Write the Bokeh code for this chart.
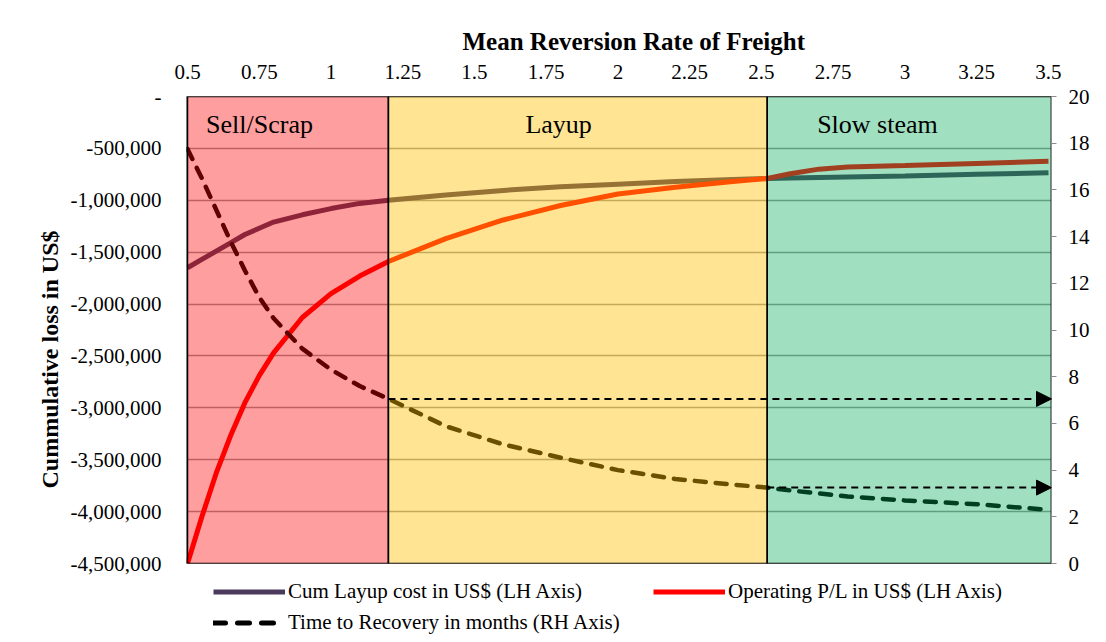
from bokeh.plotting import figure
from bokeh.layouts import column
from bokeh.models import (Range1d, LinearAxis, FixedTicker, Label, Legend, LegendItem,
                          Arrow, NormalHead, ColumnDataSource, Title)
from bokeh.embed import file_html
from bokeh.resources import INLINE

# ---------------- data ----------------
rate = [0.5, 0.55, 0.6, 0.65, 0.7, 0.75, 0.8, 0.9, 1.0, 1.1, 1.2, 1.4, 1.6, 1.8,
        2.0, 2.2, 2.4, 2.52, 2.6, 2.7, 2.8, 3.0, 3.25, 3.5]
layup_cost = [-1650000, -1570000, -1490000, -1410000, -1330000, -1270000, -1210000,
              -1140000, -1080000, -1030000, -1000000, -950000, -905000, -870000,
              -845000, -820000, -800000, -790000, -785000, -780000, -775000,
              -765000, -750000, -735000]
operating_pl = [-4500000, -4050000, -3630000, -3270000, -2950000, -2690000, -2470000,
                -2130000, -1900000, -1730000, -1590000, -1370000, -1190000, -1050000,
                -940000, -875000, -820000, -790000, -745000, -700000, -680000,
                -665000, -645000, -625000]
recovery_months = [17.75, 16.5, 15.15, 13.8, 12.55, 11.4, 10.5, 9.2, 8.3, 7.6, 7.05,
                   5.88, 5.1, 4.53, 4.0, 3.62, 3.38, 3.25, 3.13, 3.0, 2.87, 2.7, 2.54, 2.3]

regions = ["Sell/Scrap", "Layup", "Slow steam"]
region_start = [0.5, 1.2, 2.52]
region_end = [1.2, 2.52, 3.51]
region_label_x = [0.751, 1.793, 2.904]
region_colors = ["#FF0000", "#FFBE00", "#00AC56"]
region_alpha = [0.38, 0.42, 0.373]

x_ticks = [0.5, 0.75, 1.0, 1.25, 1.5, 1.75, 2.0, 2.25, 2.5, 2.75, 3.0, 3.25, 3.5]
x_tick_labels = ["0.5", "0.75", "1", "1.25", "1.5", "1.75", "2", "2.25", "2.5",
                 "2.75", "3", "3.25", "3.5"]
left_ticks = [0, -500000, -1000000, -1500000, -2000000, -2500000, -3000000,
              -3500000, -4000000, -4500000]
left_tick_labels = ["-", "-500,000", "-1,000,000", "-1,500,000", "-2,000,000",
                    "-2,500,000", "-3,000,000", "-3,500,000", "-4,000,000", "-4,500,000"]
right_ticks = [0, 2, 4, 6, 8, 10, 12, 14, 16, 18, 20]

x_title = "Mean Reversion Rate of Freight"
y_title = "Cummulative loss in US$"
legend_labels = ["Cum Layup cost in US$ (LH Axis)", "Operating P/L in US$ (LH Axis)",
                 "Time to Recovery in months (RH Axis)"]

FONT = "Liberation Serif"
LAYUP_COLOR = "#4A3B5C"
OP_COLOR = "#FF0000"
REC_COLOR = "black"
REC_DASH = "11 10"

# ---------------- main figure ----------------
p = figure(width=1106, height=576, output_backend="svg", toolbar_location=None,
           x_range=Range1d(0.4965, 3.5105), y_range=Range1d(-4500000, 0),
           x_axis_location="above",
           min_border_left=186, min_border_right=55, min_border_top=96,
           min_border_bottom=13, background_fill_color="white",
           border_fill_color="white", outline_line_color="#8c8c8c")
p.extra_y_ranges = {"right": Range1d(0, 20)}

p.title.text = x_title
p.title.align = "left"
p.title.offset = 276
p.title.text_font = FONT
p.title.text_font_size = "25px"
p.title.text_font_style = "bold"
p.title.text_color = "black"
p.title.standoff = 13

xa = p.xaxis[0]
xa.ticker = FixedTicker(ticks=x_ticks)
xa.major_label_overrides = dict(zip(x_ticks, x_tick_labels))
xa.axis_line_color = None
xa.major_tick_line_color = None
xa.minor_tick_line_color = None
xa.major_tick_out = 0
xa.major_label_standoff = 18
xa.major_label_text_font = FONT
xa.major_label_text_font_size = "21px"
xa.major_label_text_color = "black"

ya = p.yaxis[0]
ya.ticker = FixedTicker(ticks=left_ticks)
ya.major_label_overrides = dict(zip(left_ticks, left_tick_labels))
ya.axis_line_color = None
ya.major_tick_line_color = None
ya.minor_tick_line_color = None
ya.major_tick_out = 0
ya.major_label_standoff = 25
ya.major_label_text_font = FONT
ya.major_label_text_font_size = "21px"
ya.major_label_text_color = "black"

ytitle = Title(text=y_title, align="left", offset=75, text_font=FONT,
               text_font_size="24px", text_font_style="bold", text_color="black",
               standoff=10)
p.add_layout(ytitle, "left")

ra = LinearAxis(y_range_name="right", ticker=FixedTicker(ticks=right_ticks))
ra.axis_line_color = "#8c8c8c"
ra.major_tick_line_color = "#8c8c8c"
ra.minor_tick_line_color = None
ra.major_tick_out = 5
ra.major_tick_in = 0
ra.major_label_standoff = 12
ra.major_label_text_font = FONT
ra.major_label_text_font_size = "21px"
ra.major_label_text_color = "black"
p.add_layout(ra, "right")

p.xgrid.grid_line_color = None
p.ygrid.ticker = FixedTicker(ticks=left_ticks)
p.ygrid.grid_line_color = "#9a9a9a"
p.ygrid.grid_line_width = 1.5

# ---------------- lines ----------------
src = ColumnDataSource(dict(x=rate, layup=layup_cost, op=operating_pl, rec=recovery_months))
p.line("x", "layup", source=src, line_color=LAYUP_COLOR, line_width=5)
p.line("x", "op", source=src, line_color=OP_COLOR, line_width=5)
p.line("x", "rec", source=src, y_range_name="right", line_color=REC_COLOR,
       line_width=4.5, line_dash=REC_DASH, line_cap="round")

# ---------------- translucent regions (drawn over the lines) ----------------
for s, e, c, a in zip(region_start, region_end, region_colors, region_alpha):
    p.quad(left=[s], right=[e], top=[0], bottom=[-4500000], fill_color=c,
           fill_alpha=a, line_color="black", line_width=1.5)

for name, lx in zip(regions, region_label_x):
    p.add_layout(Label(x=lx, y=-270000, text=name, text_align="center",
                       text_baseline="middle", text_font=FONT,
                       text_font_size="26px", text_color="black"))

# ---------------- arrows ----------------
i12 = rate.index(1.2)
i252 = rate.index(2.52)
for idx in (i12, i252):
    p.add_layout(Arrow(x_start=rate[idx], y_start=recovery_months[idx],
                       x_end=3.5105, y_end=recovery_months[idx],
                       y_range_name="right", line_color="black", line_width=2,
                       line_dash="7 5",
                       end=NormalHead(size=15, fill_color="black", line_color="black")))

# ---------------- legend strip (series re-drawn outside its visible range) ----------------
lf = figure(width=1106, height=66, output_backend="svg", toolbar_location=None,
            x_range=Range1d(0, 1), y_range=Range1d(0, 1),
            min_border=0, outline_line_color=None, background_fill_color="white",
            border_fill_color="white")
lf.axis.visible = False
lf.grid.visible = False
g_layup = lf.line("x", "layup", source=src, line_color=LAYUP_COLOR, line_width=5)
g_op = lf.line("x", "op", source=src, line_color=OP_COLOR, line_width=5)
g_rec = lf.line("x", "rec", source=src, line_color=REC_COLOR, line_width=5,
                line_dash="12 12", line_cap="round")


def style_legend(lg):
    lg.label_text_font = FONT
    lg.label_text_font_size = "21px"
    lg.label_text_color = "black"
    lg.glyph_width = 72
    lg.glyph_height = 25
    lg.label_height = 25
    lg.label_standoff = 3
    lg.spacing = 6
    lg.padding = 0
    lg.margin = 0
    lg.border_line_alpha = 0
    lg.background_fill_alpha = 0


leg1 = Legend(items=[LegendItem(label=legend_labels[0], renderers=[g_layup]),
                     LegendItem(label=legend_labels[2], renderers=[g_rec])],
              location=(27, 7), orientation="vertical")
style_legend(leg1)
leg2 = Legend(items=[LegendItem(label=legend_labels[1], renderers=[g_op])],
              location=(467, 38), orientation="vertical")
style_legend(leg2)
lf.add_layout(leg1)
lf.add_layout(leg2)

layout = column(p, lf, spacing=0)
open("out.html", "w").write(file_html(layout, INLINE))
